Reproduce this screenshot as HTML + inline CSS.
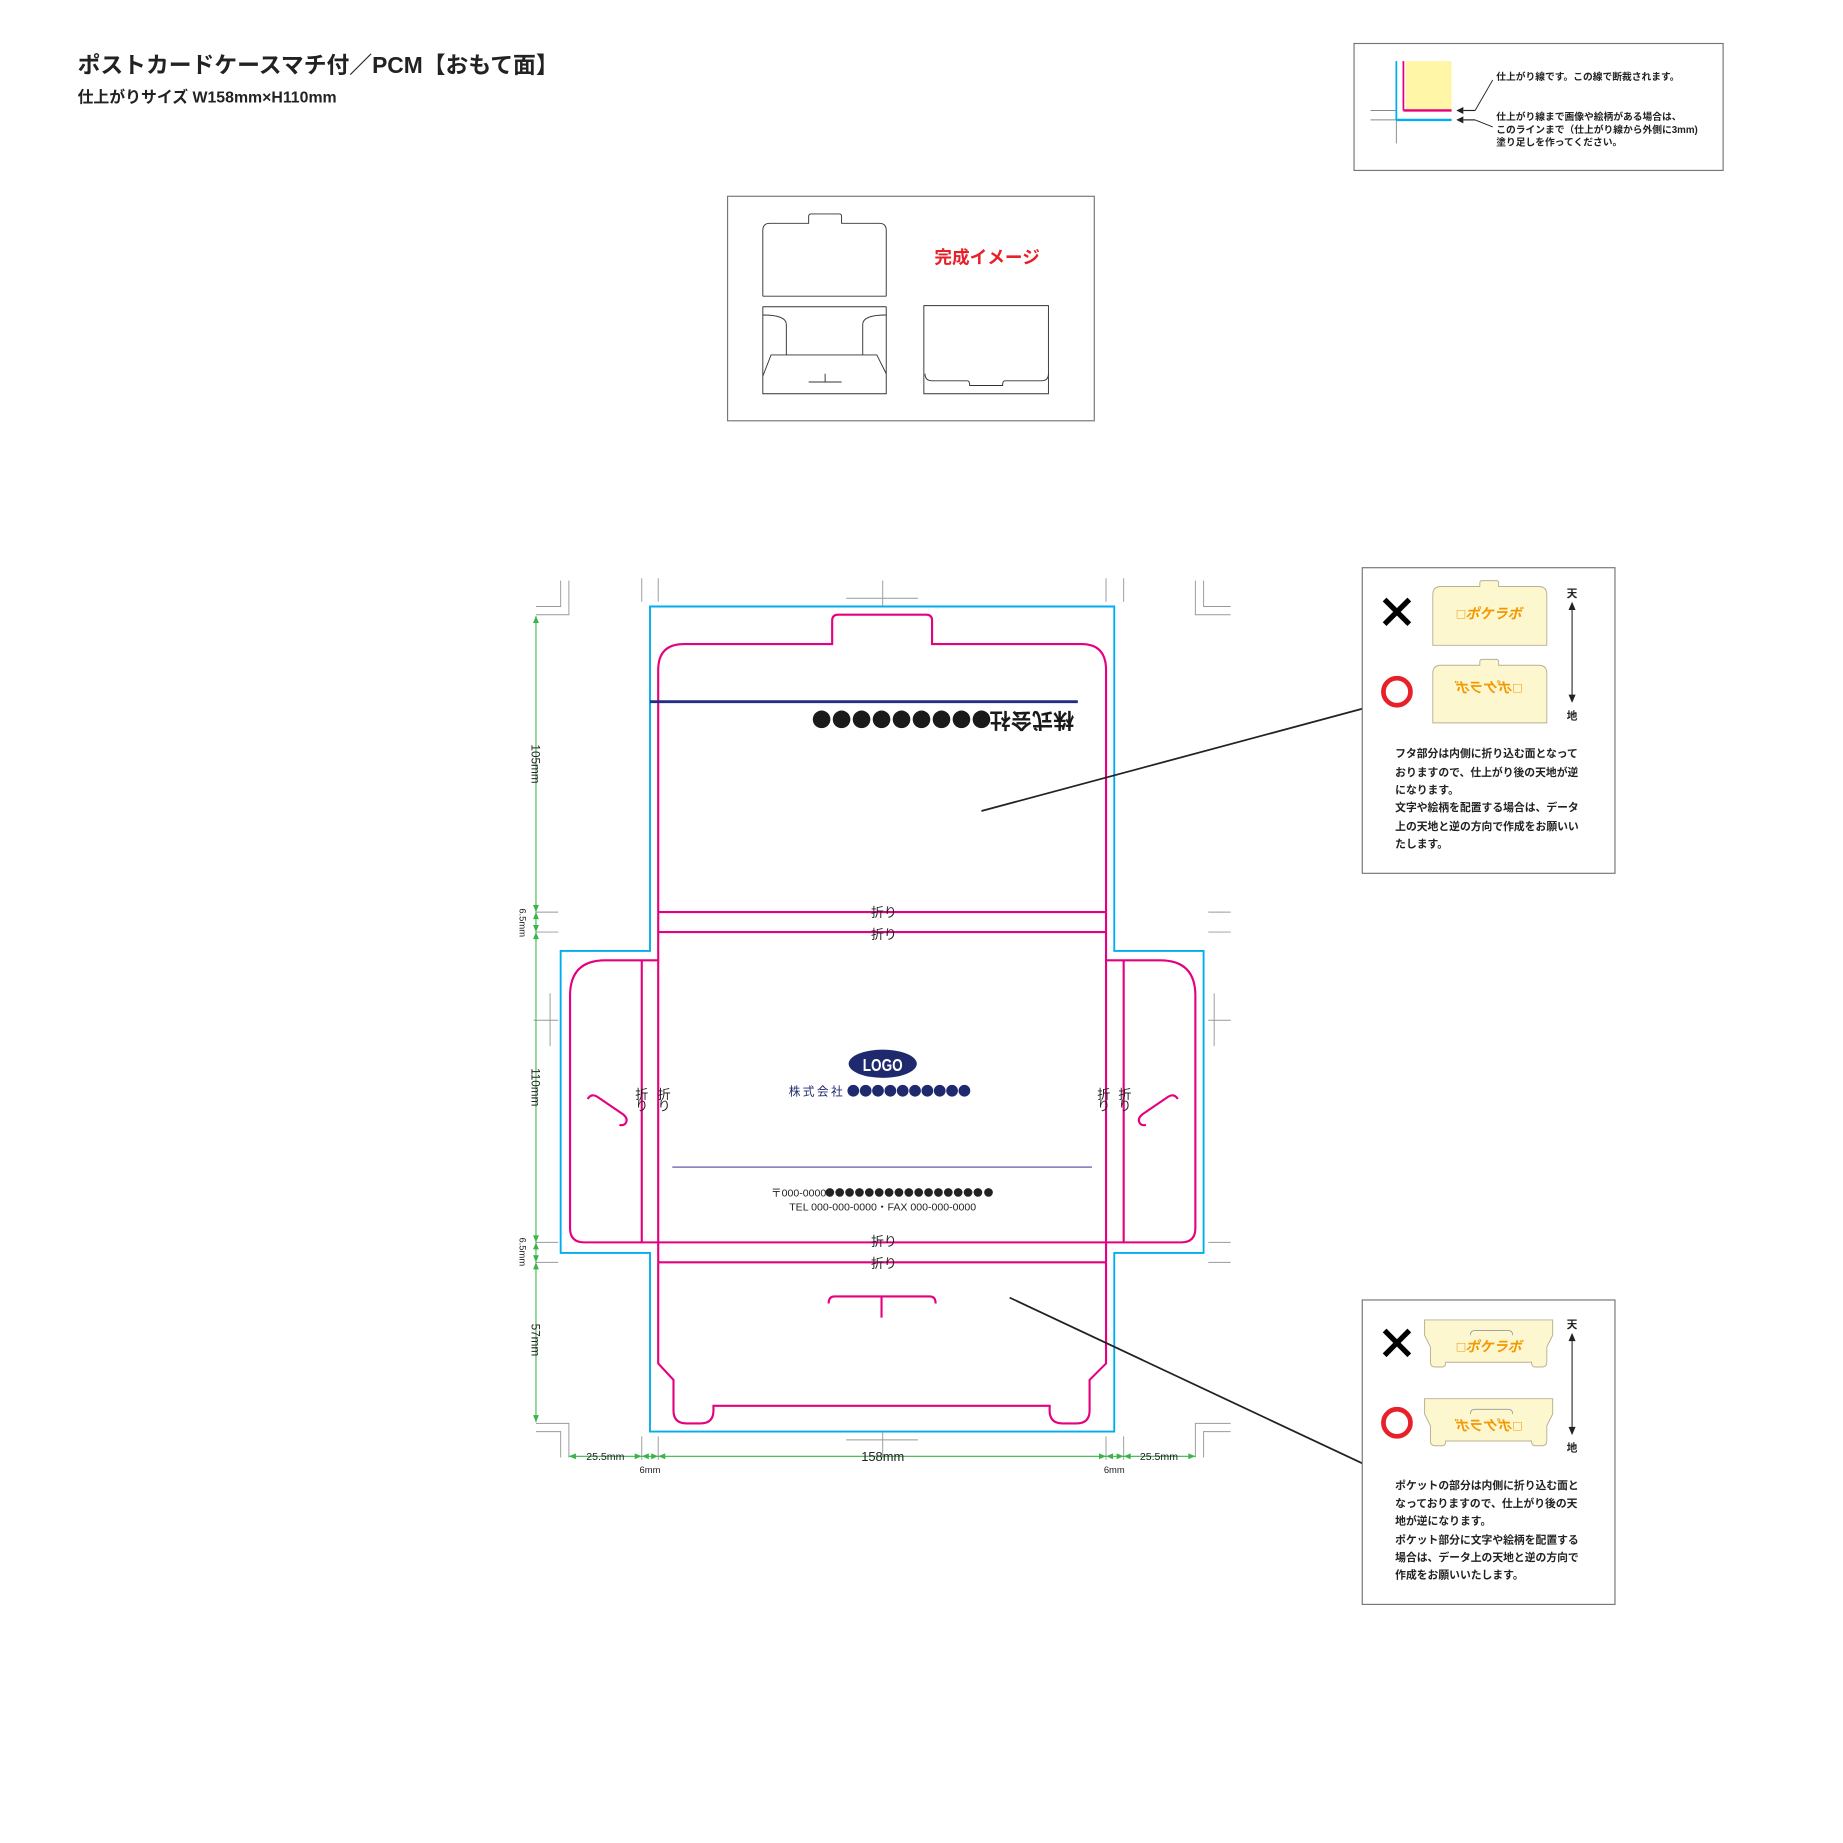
<!DOCTYPE html>
<html><head><meta charset="utf-8"><style>
html,body{margin:0;padding:0;background:#fff;}
svg{display:block;}
text{font-family:"Liberation Sans","Noto Sans CJK JP",sans-serif;}
</style></head><body>
<svg width="1843" height="1843" viewBox="0 0 1568 1568" xmlns="http://www.w3.org/2000/svg">
<rect width="1568" height="1568" fill="#fff"/>
<text x="66" y="62" font-size="19.4" font-weight="bold" fill="#222">ポストカードケースマチ付／PCM【おもて面】</text>
<text x="66" y="87" font-size="13.5" font-weight="bold" fill="#222">仕上がりサイズ W158mm×H110mm</text>

<rect x="1152" y="37" width="314" height="108" fill="none" stroke="#777" stroke-width="1"/>
<rect x="1196" y="52" width="39" height="43" fill="#fff6a8"/>
<line x1="1188" y1="52" x2="1188" y2="122" stroke="#888" stroke-width="0.8"/>
<line x1="1166" y1="94" x2="1188" y2="94" stroke="#888" stroke-width="0.8"/>
<line x1="1166" y1="102" x2="1188" y2="102" stroke="#888" stroke-width="0.8"/>
<line x1="1188" y1="52" x2="1188" y2="102" stroke="#00aeef" stroke-width="1.5"/>
<line x1="1188" y1="102" x2="1235" y2="102" stroke="#00aeef" stroke-width="2"/>
<line x1="1194" y1="52" x2="1194" y2="94" stroke="#e4007f" stroke-width="1.5"/>
<line x1="1194" y1="94" x2="1235" y2="94" stroke="#e4007f" stroke-width="2"/>
<path d="M1239,94 l6,-3 v6 z M1239,102 l6,-3 v6 z" fill="#222"/>
<line x1="1245" y1="94" x2="1255" y2="94" stroke="#222"/>
<line x1="1245" y1="102" x2="1255" y2="102" stroke="#222"/>
<line x1="1255" y1="94" x2="1270" y2="68" stroke="#222" stroke-width="0.8"/>
<line x1="1255" y1="102" x2="1270" y2="108" stroke="#222" stroke-width="0.8"/>
<g font-size="8.3" font-weight="bold" fill="#222">
<text x="1273" y="68">仕上がり線です。この線で断裁されます。</text>
<text x="1273" y="102">仕上がり線まで画像や絵柄がある場合は、</text>
<text x="1273" y="113">このラインまで（仕上がり線から外側に3mm)</text>
<text x="1273" y="124">塗り足しを作ってください。</text>
</g>

<rect x="619" y="167" width="312" height="191" fill="none" stroke="#777" stroke-width="1"/>
<g fill="none" stroke="#333" stroke-width="0.8">
<path d="M649,252 V196 q0,-6 6,-6 H688 V184 q0,-2 2,-2 H714 q2,0 2,2 V190 H748 q6,0 6,6 V252"/>
<line x1="649" y1="252" x2="754" y2="252"/>
<line x1="649" y1="261" x2="754" y2="261"/>
<path d="M649,261 V335 H754 V261"/>
<path d="M649,268 q20,0 20,8 V302"/>
<path d="M754,268 q-20,0 -20,8 V302"/>
<path d="M649,320 L656,302 H746 L754,318"/>
<path d="M688,325 H716 M702,318 V325"/>
<path d="M786,260 H892 V335 H786 Z"/>
<path d="M787,318 q0,6 6,6 H823 q2,0 2,4 H853 q0,-4 2,-4 H886 q6,0 6,-6"/>
</g>
<text x="795" y="224" font-size="15" font-weight="bold" fill="#e8202a">完成イメージ</text>

<g stroke="#999" stroke-width="0.8" fill="none">
<path d="M477,494 V516 H456 M484,494 V523 H456"/>
<path d="M1024,494 V516 H1047 M1017,494 V523 H1047"/>
<path d="M477,1240 V1218 H456 M484,1240 V1211 H456"/>
<path d="M1024,1240 V1218 H1047 M1017,1240 V1211 H1047"/>
<path d="M546,492 V512 M560,492 V512 M941,492 V512 M956,492 V512"/>
<path d="M546,1222 V1242 M560,1222 V1242 M941,1222 V1242 M956,1222 V1242"/>
<path d="M751,494 V516 M720,509 H781"/>
<path d="M751,1218 V1240 M720,1225 H781"/>
<path d="M456,776 H475 M456,793 H475 M456,1057 H475 M456,1074 H475"/>
<path d="M1028,776 H1047 M1028,793 H1047 M1028,1057 H1047 M1028,1074 H1047"/>
<path d="M454,868 H475 M468,845 V890 M1028,868 H1047 M1033,845 V890"/>
</g>

<path d="M553,516 H948 V809 H1024 V1066 H948 V1218 H553 V1066 H477 V809 H553 Z" fill="none" stroke="#00aeef" stroke-width="1.6"/>

<g fill="none" stroke="#e4007f" stroke-width="1.8">
<path d="M560,776 V570 q0,-22 22,-22 H708 V528 q0,-5 5,-5 H788 q5,0 5,5 V548 H920 q21,0 21,22 V776"/>
<path d="M560,776 H941 M560,793 H941 M560,1057 H941 M560,1074 H941"/>
<path d="M560,776 V1074 M941,776 V1074"/>
<path d="M560,1074 V1160 L573,1174 V1200 q0,11 11,11 H596 q11,0 11,-11 V1196 H893 V1200 q0,11 11,11 H916 q11,0 11,-11 V1174 L941,1160 V1074"/>
<path d="M560,817 H515 q-30,0 -30,30 V1045 q0,12 12,12 H560"/>
<path d="M546,817 V1057"/>
<path d="M941,817 H987 q30,0 30,30 V1045 q0,12 -12,12 H941"/>
<path d="M956,817 V1057"/>
<path d="M500,935 q3,-5 8,-2 L530,948 q5,4 2,8 q-2,2 -5,1"/>
<path d="M1002,935 q-3,-5 -8,-2 L972,948 q-5,4 -2,8 q2,2 5,1"/>
<path d="M705,1109 q0,-6 5,-6 H791 q5,0 5,6 M750,1103 V1121"/>
</g>
<g font-size="11" fill="#222" text-anchor="middle">
<text x="752" y="780">折り</text>
<text x="752" y="799">折り</text>
<text x="752" y="1060">折り</text>
<text x="752" y="1079">折り</text>
<text x="546" y="935">折</text><text x="546" y="945">り</text>
<text x="565" y="935">折</text><text x="565" y="945">り</text>
<text x="939" y="935">折</text><text x="939" y="945">り</text>
<text x="957" y="935">折</text><text x="957" y="945">り</text>
</g>

<line x1="553" y1="597" x2="917" y2="597" stroke="#232d84" stroke-width="2.5"/>
<text transform="translate(878,612) rotate(180)" font-size="18" font-weight="bold" fill="#1a1a1a" text-anchor="middle" dominant-baseline="central">株式会社</text>
<g fill="#1a1a1a">
<circle cx="699" cy="612" r="7.5"/><circle cx="716" cy="612" r="7.5"/><circle cx="733" cy="612" r="7.5"/><circle cx="750" cy="612" r="7.5"/><circle cx="767" cy="612" r="7.5"/><circle cx="784" cy="612" r="7.5"/><circle cx="801" cy="612" r="7.5"/><circle cx="818" cy="612" r="7.5"/><circle cx="835" cy="612" r="7.5"/>
</g>
<ellipse cx="751" cy="905" rx="29" ry="12" fill="#1f2a6e"/>
<text x="751" y="911" font-size="15" font-weight="bold" fill="#fff" text-anchor="middle" textLength="34" lengthAdjust="spacingAndGlyphs">LOGO</text>
<text x="695" y="932" font-size="10" fill="#1f2a6e" text-anchor="middle" letter-spacing="2">株式会社</text>
<g fill="#1f2a6e">
<circle cx="726" cy="928" r="5"/><circle cx="736.5" cy="928" r="5"/><circle cx="747" cy="928" r="5"/><circle cx="757.5" cy="928" r="5"/><circle cx="768" cy="928" r="5"/><circle cx="778.5" cy="928" r="5"/><circle cx="789" cy="928" r="5"/><circle cx="799.5" cy="928" r="5"/><circle cx="810" cy="928" r="5"/><circle cx="820.5" cy="928" r="5"/>
</g>
<line x1="572" y1="993" x2="929" y2="993" stroke="#7a74b8" stroke-width="1.3"/>
<text x="656" y="1018" font-size="9" fill="#222" font-family="Liberation Serif, Noto Serif CJK SC, serif">〒000-0000</text>
<g fill="#222">
<circle cx="706" cy="1014.5" r="3.7"/><circle cx="714.4" cy="1014.5" r="3.7"/><circle cx="722.8" cy="1014.5" r="3.7"/><circle cx="731.2" cy="1014.5" r="3.7"/><circle cx="739.6" cy="1014.5" r="3.7"/><circle cx="748" cy="1014.5" r="3.7"/><circle cx="756.4" cy="1014.5" r="3.7"/><circle cx="764.8" cy="1014.5" r="3.7"/><circle cx="773.2" cy="1014.5" r="3.7"/><circle cx="781.6" cy="1014.5" r="3.7"/><circle cx="790" cy="1014.5" r="3.7"/><circle cx="798.4" cy="1014.5" r="3.7"/><circle cx="806.8" cy="1014.5" r="3.7"/><circle cx="815.2" cy="1014.5" r="3.7"/><circle cx="823.6" cy="1014.5" r="3.7"/><circle cx="832" cy="1014.5" r="3.7"/><circle cx="841" cy="1014.5" r="3.7"/>
</g>
<text x="751" y="1030" font-size="9" fill="#222" text-anchor="middle" font-family="Liberation Serif, Noto Serif CJK SC, serif">TEL 000-000-0000・FAX 000-000-0000</text>

<g stroke="#39b54a" stroke-width="0.9" fill="#39b54a">
<line x1="456" y1="524" x2="456" y2="1210"/>
<line x1="484" y1="1239" x2="1017" y2="1239"/>
<path d="M456,524 l-2.5,6 h5z M456,776 l-2.5,-6 h5z M456,776 l-2.5,6 h5z M456,793 l-2.5,-6 h5z M456,793 l-2.5,6 h5z M456,1057 l-2.5,-6 h5z M456,1057 l-2.5,6 h5z M456,1074 l-2.5,-6 h5z M456,1074 l-2.5,6 h5z M456,1210 l-2.5,-6 h5z" stroke="none"/>
<path d="M484,1239 l6,-2.5 v5z M546,1239 l-6,-2.5 v5z M546,1239 l6,-2.5 v5z M560,1239 l-6,-2.5 v5z M560,1239 l6,-2.5 v5z M941,1239 l-6,-2.5 v5z M941,1239 l6,-2.5 v5z M956,1239 l-6,-2.5 v5z M956,1239 l6,-2.5 v5z M1017,1239 l-6,-2.5 v5z" stroke="none"/>
</g>
<g font-size="10" fill="#222" text-anchor="middle">
<text transform="translate(452,650) rotate(90)">105mm</text>
<text transform="translate(442,785) rotate(90)" font-size="8">6.5mm</text>
<text transform="translate(452,925) rotate(90)">110mm</text>
<text transform="translate(442,1065) rotate(90)" font-size="8">6.5mm</text>
<text transform="translate(452,1140) rotate(90)">57mm</text>
<text x="515" y="1242" font-size="9">25.5mm</text>
<text x="553" y="1253" font-size="8">6mm</text>
<text x="751" y="1243" font-size="11">158mm</text>
<text x="948" y="1253" font-size="8">6mm</text>
<text x="986" y="1242" font-size="9">25.5mm</text>
</g>

<line x1="835" y1="690" x2="1159" y2="603" stroke="#222" stroke-width="1.5"/>
<line x1="859" y1="1104" x2="1159" y2="1245" stroke="#222" stroke-width="1.5"/>

<rect x="1159" y="483" width="215" height="260" fill="#fff" stroke="#777" stroke-width="1"/>
<path d="M1178,510 L1199,531 M1199,510 L1178,531" stroke="#000" stroke-width="4.5"/>
<circle cx="1188.5" cy="588.5" r="11.5" fill="none" stroke="#e8202a" stroke-width="4"/>
<g fill="#fdf7d0" stroke="#b8b090" stroke-width="0.8">
<path d="M1219,549 V506 q0,-7 7,-7 H1259 V496 q0,-2 2,-2 H1273 q2,0 2,2 V499 H1309 q7,0 7,7 V549 Z"/>
<path d="M1219,615 V573 q0,-7 7,-7 H1259 V563 q0,-2 2,-2 H1273 q2,0 2,2 V566 H1309 q7,0 7,7 V615 Z"/>
</g>
<text x="1267" y="526" font-size="12" font-weight="bold" font-style="italic" fill="#f39800" text-anchor="middle">□ポケラボ</text>
<text transform="translate(1267,589) scale(-1,1)" font-size="12" font-weight="bold" font-style="italic" fill="#f39800" text-anchor="middle">□ポケラボ</text>
<line x1="1337.5" y1="518" x2="1337.5" y2="593" stroke="#333" stroke-width="1"/>
<path d="M1337.5,512 l-3,7 h6z M1337.5,598 l-3,-7 h6z" fill="#222"/>
<text x="1337.5" y="508" font-size="9" font-weight="bold" fill="#222" text-anchor="middle">天</text>
<text x="1337.5" y="612" font-size="9" font-weight="bold" fill="#222" text-anchor="middle">地</text>
<g font-size="9.2" font-weight="bold" fill="#222">
<text x="1187" y="644">フタ部分は内側に折り込む面となって</text>
<text x="1187" y="660">おりますので、仕上がり後の天地が逆</text>
<text x="1187" y="675">になります。</text>
<text x="1187" y="690">文字や絵柄を配置する場合は、データ</text>
<text x="1187" y="706">上の天地と逆の方向で作成をお願いい</text>
<text x="1187" y="721">たします。</text>
</g>

<rect x="1159" y="1106" width="215" height="259" fill="#fff" stroke="#777" stroke-width="1"/>
<path d="M1178,1132 L1199,1153 M1199,1132 L1178,1153" stroke="#000" stroke-width="4.5"/>
<circle cx="1188.5" cy="1210.5" r="11.5" fill="none" stroke="#e8202a" stroke-width="4"/>
<g fill="#fdf7d0" stroke="#b8b090" stroke-width="0.8">
<path d="M1212,1123 H1321 V1136 L1316,1146 V1159 q0,4 -4,4 H1306 q-3,0 -3,-4 H1230 q0,4 -3,4 H1221 q-4,0 -4,-4 V1146 L1212,1136 Z"/>
<path d="M1212,1190 H1321 V1203 L1316,1213 V1226 q0,4 -4,4 H1306 q-3,0 -3,-4 H1230 q0,4 -3,4 H1221 q-4,0 -4,-4 V1213 L1212,1203 Z"/>
</g>
<path d="M1251,1136 q0,-4 4,-4 H1283 q4,0 4,4 M1251,1203 q0,-4 4,-4 H1283 q4,0 4,4" fill="none" stroke="#888" stroke-width="0.6"/>
<text x="1267" y="1150" font-size="12" font-weight="bold" font-style="italic" fill="#f39800" text-anchor="middle">□ポケラボ</text>
<text transform="translate(1267,1217) scale(-1,1)" font-size="12" font-weight="bold" font-style="italic" fill="#f39800" text-anchor="middle">□ポケラボ</text>
<line x1="1337.5" y1="1140" x2="1337.5" y2="1216" stroke="#333" stroke-width="1"/>
<path d="M1337.5,1134 l-3,7 h6z M1337.5,1221 l-3,-7 h6z" fill="#222"/>
<text x="1337.5" y="1130" font-size="9" font-weight="bold" fill="#222" text-anchor="middle">天</text>
<text x="1337.5" y="1235" font-size="9" font-weight="bold" fill="#222" text-anchor="middle">地</text>
<g font-size="9.2" font-weight="bold" fill="#222">
<text x="1187" y="1267">ポケットの部分は内側に折り込む面と</text>
<text x="1187" y="1282">なっておりますので、仕上がり後の天</text>
<text x="1187" y="1297">地が逆になります。</text>
<text x="1187" y="1313">ポケット部分に文字や絵柄を配置する</text>
<text x="1187" y="1328">場合は、データ上の天地と逆の方向で</text>
<text x="1187" y="1343">作成をお願いいたします。</text>
</g>
</svg>
</body></html>
